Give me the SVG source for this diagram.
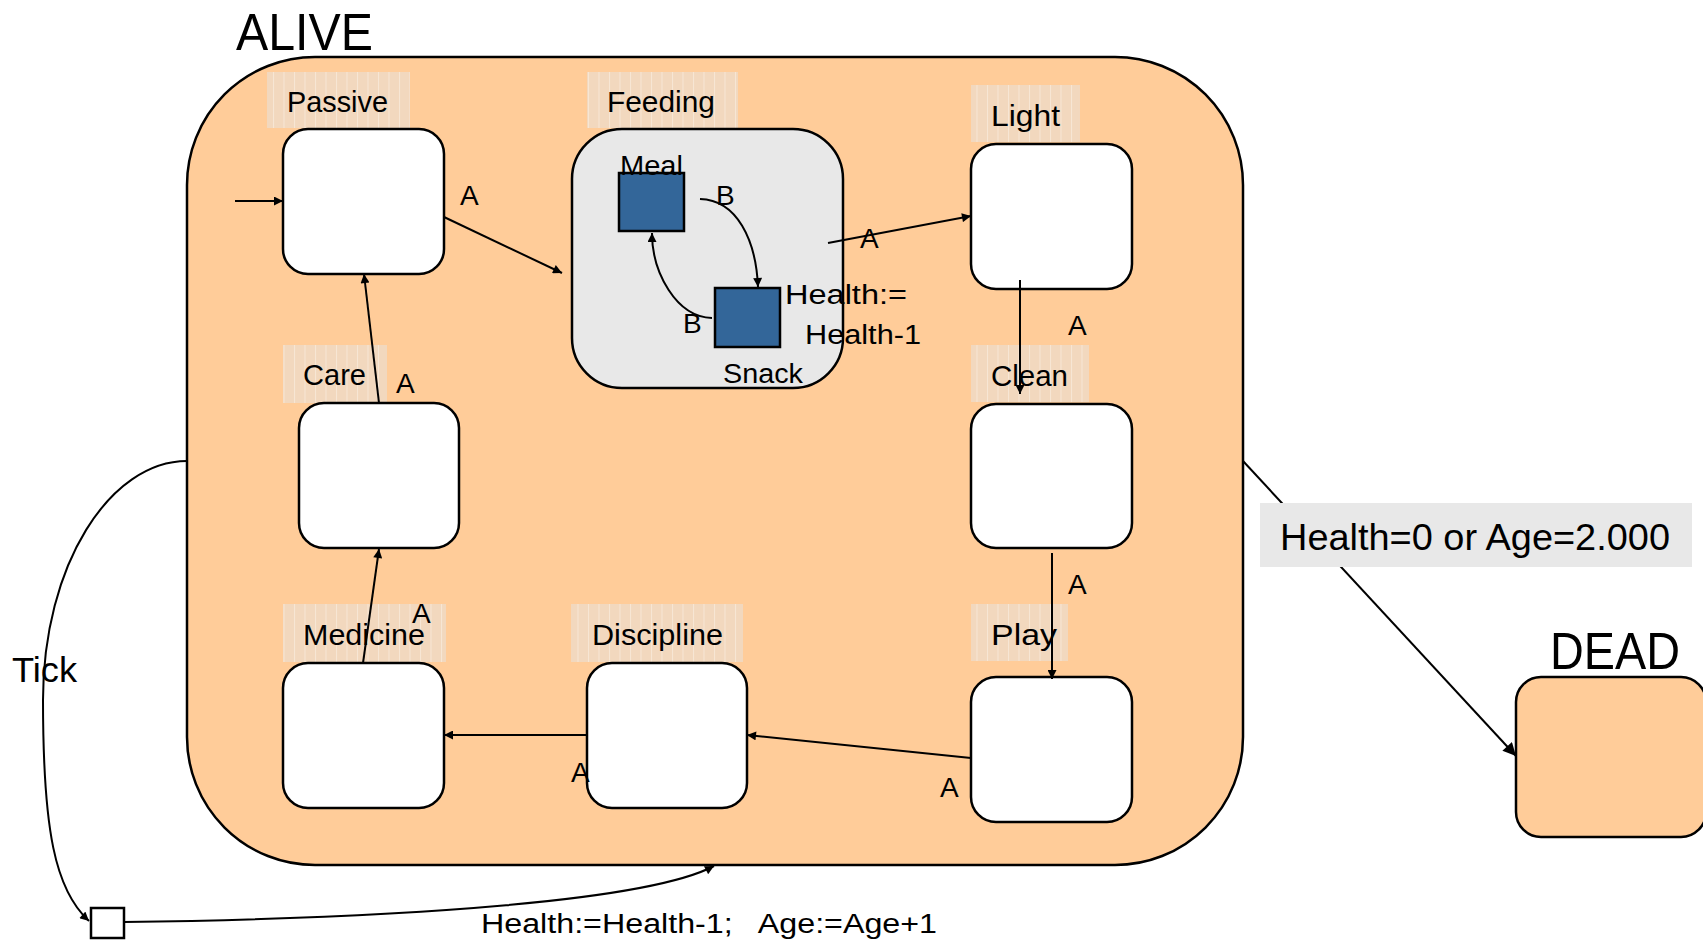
<svg xmlns="http://www.w3.org/2000/svg" width="1703" height="942" viewBox="0 0 1703 942">
<style>
text{font-family:"Liberation Sans",Arial,sans-serif;fill:#000}
.big{font-size:51px}
.lbl{font-size:30px}
.sm{font-size:27px}
.a{font-size:28px}
.state{fill:#fff;stroke:#000;stroke-width:2.5}
.lblbg{fill:url(#stripe)}
.conn path,.conn line{fill:none;stroke:#000;stroke-width:2}
</style>
<defs>
<pattern id="stripe" width="10.5" height="10" patternUnits="userSpaceOnUse">
<rect width="10.5" height="10" fill="#f2d8be"/>
<rect x="0" y="0" width="1" height="10" fill="#fff" opacity="0.35"/>
</pattern>
<marker id="arr" viewBox="0 0 10 10" refX="10" refY="5" markerWidth="12" markerHeight="9" markerUnits="userSpaceOnUse" orient="auto"><path d="M0,0 L10,5 L0,10 z" fill="#000"/></marker>
<marker id="arrBig" viewBox="0 0 10 10" refX="10" refY="5" markerWidth="18" markerHeight="13" markerUnits="userSpaceOnUse" orient="auto"><path d="M0,0 L10,5 L0,10 z" fill="#000"/></marker>
</defs>
<rect width="1703" height="942" fill="#fff"/>

<g id="alive">
<rect x="187" y="57" width="1056" height="808" rx="128" ry="128" fill="#ffcc99" stroke="#000" stroke-width="2.5"/>
<text class="big" x="236" y="50" textLength="137" lengthAdjust="spacingAndGlyphs">ALIVE</text>
</g>

<g id="passive">
<rect class="lblbg" x="267" y="72" width="143" height="56"/>
<text class="lbl" x="287" y="112" textLength="101" lengthAdjust="spacingAndGlyphs">Passive</text>
<rect class="state" x="283" y="129" width="161" height="145" rx="25"/>
</g>

<g id="feeding">
<rect class="lblbg" x="587" y="72" width="151" height="56"/>
<text class="lbl" x="607" y="112" textLength="108" lengthAdjust="spacingAndGlyphs">Feeding</text>
<rect x="572" y="129" width="271" height="259" rx="50" fill="#e8e8e8" stroke="#000" stroke-width="2.5"/>
</g>

<g id="meal">
<rect x="619" y="173" width="65" height="58" fill="#336699" stroke="#000" stroke-width="2.5"/>
<text class="sm" x="620" y="175" textLength="63" lengthAdjust="spacingAndGlyphs">Meal</text>
</g>

<g id="snack">
<rect x="715" y="288" width="65" height="59" fill="#336699" stroke="#000" stroke-width="2.5"/>
<text class="sm" x="723" y="383" textLength="80" lengthAdjust="spacingAndGlyphs">Snack</text>
</g>

<g id="light">
<rect class="lblbg" x="971" y="85" width="109" height="57"/>
<text class="lbl" x="991" y="126" textLength="69" lengthAdjust="spacingAndGlyphs">Light</text>
<rect class="state" x="971" y="144" width="161" height="145" rx="25"/>
</g>

<g id="clean">
<rect class="lblbg" x="971" y="345" width="118" height="57"/>
<text class="lbl" x="991" y="386" textLength="77" lengthAdjust="spacingAndGlyphs">Clean</text>
<rect class="state" x="971" y="404" width="161" height="144" rx="25"/>
</g>

<g id="play">
<rect class="lblbg" x="971" y="604" width="97" height="57"/>
<text class="lbl" x="991" y="645" textLength="66" lengthAdjust="spacingAndGlyphs">Play</text>
<rect class="state" x="971" y="677" width="161" height="145" rx="25"/>
</g>

<g id="discipline">
<rect class="lblbg" x="571" y="604" width="172" height="58"/>
<text class="lbl" x="592" y="645" textLength="131" lengthAdjust="spacingAndGlyphs">Discipline</text>
<rect class="state" x="587" y="663" width="160" height="145" rx="25"/>
</g>

<g id="medicine">
<rect class="lblbg" x="283" y="604" width="163" height="58"/>
<text class="lbl" x="303" y="645" textLength="122" lengthAdjust="spacingAndGlyphs">Medicine</text>
<rect class="state" x="283" y="663" width="161" height="145" rx="25"/>
</g>

<g id="care">
<rect class="lblbg" x="283" y="345" width="104" height="58"/>
<text class="lbl" x="303" y="385" textLength="63" lengthAdjust="spacingAndGlyphs">Care</text>
<rect class="state" x="299" y="403" width="160" height="145" rx="25"/>
</g>

<g id="dead">
<rect x="1516" y="677" width="190" height="160" rx="25" fill="#ffcc99" stroke="#000" stroke-width="2.5"/>
<text class="big" x="1550" y="669" textLength="130" lengthAdjust="spacingAndGlyphs">DEAD</text>
</g>

<g id="tickbox">
<rect x="91" y="908" width="33" height="30" fill="#fff" stroke="#000" stroke-width="2.5"/>
</g>

<g class="conn" id="connectors">
<line x1="235" y1="201" x2="283" y2="201" marker-end="url(#arr)"/>
<line x1="444" y1="217" x2="562" y2="273" marker-end="url(#arr)"/>
<text class="a" x="460" y="205">A</text>
<path d="M700,199 C737,200 756,240 758,287" marker-end="url(#arr)"/>
<text class="a" x="716" y="205">B</text>
<path d="M712,318 C676,317 652,272 652,233" marker-end="url(#arr)"/>
<text class="a" x="683" y="333">B</text>
<line x1="828" y1="243" x2="971" y2="216" marker-end="url(#arr)"/>
<text class="a" x="860" y="248">A</text>
<text class="sm" x="785" y="304" textLength="122" lengthAdjust="spacingAndGlyphs">Health:=</text>
<text class="sm" x="805" y="344" textLength="116" lengthAdjust="spacingAndGlyphs">Health-1</text>
<line x1="1020" y1="280" x2="1020" y2="394" marker-end="url(#arr)"/>
<text class="a" x="1068" y="335">A</text>
<line x1="1052" y1="553" x2="1052" y2="679" marker-end="url(#arr)"/>
<text class="a" x="1068" y="594">A</text>
<line x1="971" y1="758" x2="747" y2="735" marker-end="url(#arr)"/>
<text class="a" x="940" y="797">A</text>
<line x1="587" y1="735" x2="444" y2="735" marker-end="url(#arr)"/>
<text class="a" x="571" y="782">A</text>
<line x1="363" y1="663" x2="379" y2="549" marker-end="url(#arr)"/>
<text class="a" x="412" y="623">A</text>
<line x1="379" y1="403" x2="364" y2="274" marker-end="url(#arr)"/>
<text class="a" x="396" y="393">A</text>
<path d="M187,461 C110,461 43,565 43,700 C43,830 55,890 89,921" marker-end="url(#arr)"/>
<text x="12" y="682" style="font-size:35px" textLength="65" lengthAdjust="spacingAndGlyphs">Tick</text>
<path d="M124,922 C420,918 650,900 714,866" marker-end="url(#arr)"/>
<text class="sm" x="481" y="933" xml:space="preserve" textLength="456" lengthAdjust="spacingAndGlyphs">Health:=Health-1;   Age:=Age+1</text>
<line x1="1243" y1="461" x2="1516" y2="756" marker-end="url(#arrBig)"/>
<rect x="1260" y="503" width="432" height="64" fill="#e8e8e8"/>
<text x="1280" y="550" style="font-size:37px" textLength="390" lengthAdjust="spacingAndGlyphs">Health=0 or Age=2.000</text>
</g>
</svg>
